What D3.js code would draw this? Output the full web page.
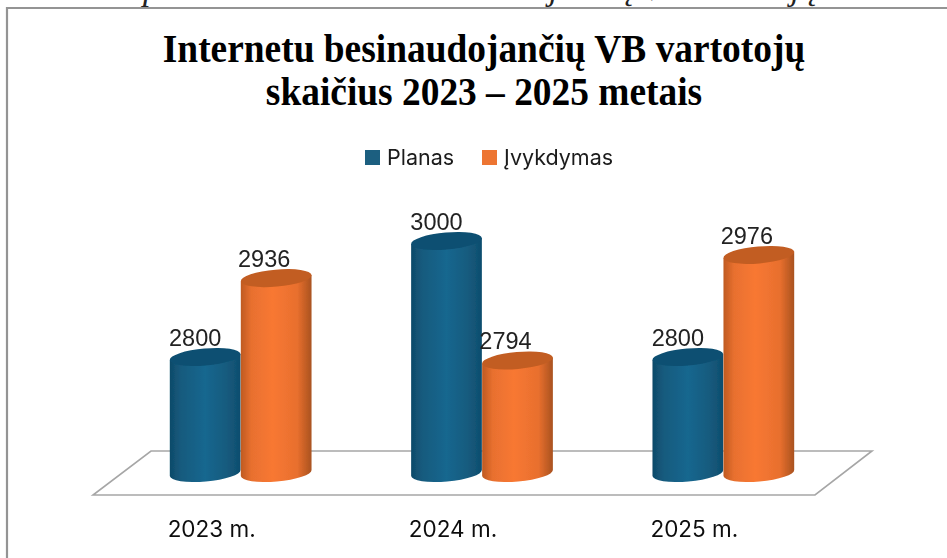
<!DOCTYPE html>
<html><head><meta charset="utf-8">
<script src="https://cdn.jsdelivr.net/npm/d3@7"></script>
<style>html,body{margin:0;padding:0;background:#fff}svg{display:block}</style>
</head><body><svg id="c" width="947" height="558"></svg>
<script>
const categories = ["2023 m.", "2024 m.", "2025 m."];
const seriesNames = ["Planas", "Įvykdymas"];
const planas = [2800, 3000, 2800];
const ivykdymas = [2936, 2794, 2976];
const titleLines = ["Internetu besinaudojančių VB vartotojų", "skaičius 2023 – 2025 metais"];
const clippedCaption = "pavadas: Internetu besinaudojančių VB vartotojų skaičius 2023 – 2025 metais";

const svg = d3.select("#c");
const defs = svg.append("defs");
function grad(id, stops){
  const g = defs.append("linearGradient").attr("id", id);
  stops.forEach(s => g.append("stop").attr("offset", s[0]).attr("stop-color", s[1]));
}
grad("gBlue", [[0,"#0f4a69"],[.15,"#155a7d"],[.5,"#17678f"],[.8,"#155b7e"],[1,"#0f4d6e"]]);
grad("gOrange", [[0,"#bf5a22"],[.15,"#e8702f"],[.45,"#f87832"],[.8,"#e86f2e"],[1,"#a9521f"]]);
const soft = defs.append("filter").attr("id", "soft");
soft.append("feGaussianBlur").attr("stdDeviation", 0.45);

const x0 = d3.scaleBand().domain(categories).range([120, 844]);
const x1 = d3.scaleBand().domain(seriesNames).range([-71, 71]);
const y = d3.scaleLinear().domain([2600, 3000]).range([473, 241]);
const colors = d3.scaleOrdinal().domain(seriesNames).range(["#1b5f80", "#ed7432"]);
const gradIds = d3.scaleOrdinal().domain(seriesNames).range(["gBlue", "gOrange"]);
const topFills = d3.scaleOrdinal().domain(seriesNames).range(["#0f5072", "#c25d22"]);
const values = [planas, ivykdymas];
const rx = x1.bandwidth() / 2, ry = 8.5, tilt = -5;
const lift = rx * Math.sin(tilt * Math.PI / 180), run = rx * Math.cos(tilt * Math.PI / 180);

// clipped caption, only its descenders show above the chart frame
svg.append("text").attr("x", 143).attr("y", 0).attr("font-family", "Liberation Serif")
  .attr("font-style", "italic").attr("font-size", 34).attr("fill", "#222").text(clippedCaption);

// frame
svg.append("path").attr("d", "M7,558V8H947").attr("fill", "none").attr("stroke", "#949494").attr("stroke-width", 2.2);

// title
svg.append("g").selectAll("text").data(titleLines).join("text")
  .attr("transform", (d, i) => `translate(484,${62 + i * 43}) scale(0.935,1)`)
  .attr("text-anchor", "middle").attr("font-family", "Liberation Serif").attr("font-weight", 700)
  .attr("font-size", 40).attr("fill", "#000").text(d => d);

// legend
const legendX = [365, 482];
const lg = svg.append("g").attr("filter", "url(#soft)").selectAll("g").data(seriesNames).join("g")
  .attr("transform", (d, i) => `translate(${legendX[i]},150)`);
lg.append("rect").attr("width", 15).attr("height", 15).attr("fill", d => colors(d));
lg.append("text").attr("x", 22).attr("y", 14.5).attr("font-family", "Inter").attr("font-size", 21.5)
  .attr("fill", "#1a1a1a").text(d => d);

// floor
svg.append("path").attr("d", "M151,451H872L815,495H93Z").attr("fill", "#fff")
  .attr("stroke", "#a6a6a6").attr("stroke-width", 1.6);

// bars
const bars = svg.append("g").attr("filter", "url(#soft)");
const labels = svg.append("g").attr("filter", "url(#soft)");
const labelDx = [-10, -12];
categories.forEach((c, i) => {
  seriesNames.forEach((s, k) => {
    const v = values[k][i];
    const cx = x0(c) + x0.bandwidth() / 2 + x1(s) + rx;
    const yt = y(v), yb = y(2600);
    const g = bars.append("g");
    g.append("path")
      .attr("d", `M${cx - run},${yt - lift}L${cx - run},${yb - lift}A${rx},${ry} ${tilt} 0 0 ${cx + run},${yb + lift}L${cx + run},${yt + lift}Z`)
      .attr("fill", `url(#${gradIds(s)})`);
    g.append("ellipse").attr("cx", cx).attr("cy", yt).attr("rx", rx).attr("ry", ry)
      .attr("transform", `rotate(${tilt} ${cx} ${yt})`).attr("fill", topFills(s));
    labels.append("text").attr("x", cx + labelDx[k]).attr("y", yt - 11).attr("text-anchor", "middle")
      .attr("font-family", "Liberation Sans").attr("font-size", 23.5).attr("fill", "#222").text(v);
  });
});

// category labels
svg.append("g").attr("filter", "url(#soft)").selectAll("text").data(categories).join("text")
  .attr("x", d => x0(d) + x0.bandwidth() / 2 - 29).attr("y", 537).attr("text-anchor", "middle")
  .attr("font-family", "Inter").attr("font-size", 22.5).attr("fill", "#111").text(d => d);
</script></body></html>
